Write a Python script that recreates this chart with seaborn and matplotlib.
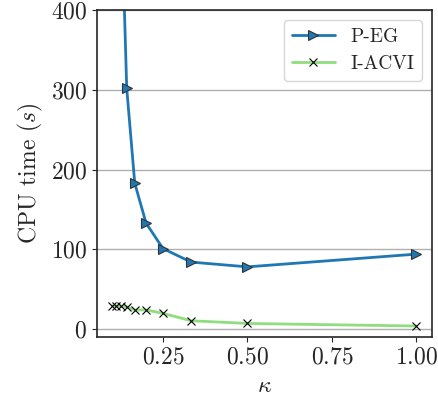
import matplotlib
matplotlib.use("Agg")
import matplotlib.pyplot as plt
import pandas as pd
import seaborn as sns

# kappa values and CPU time (s) per method
kappa_peg = [1/8, 1/7, 1/6, 1/5, 1/4, 1/3, 1/2, 1.0]
time_peg = [560, 302, 183, 133, 101, 84, 78, 94]

kappa_iacvi = [1/10, 1/9, 1/8, 1/7, 1/6, 1/5, 1/4, 1/3, 1/2, 1.0]
time_iacvi = [29, 29, 29, 28, 24, 24, 19.7, 10.4, 7, 3.8]

sns.set_style("ticks")
plt.rcParams["font.family"] = "serif"
plt.rcParams["font.serif"] = ["cmr10", "DejaVu Serif"]
plt.rcParams["mathtext.fontset"] = "cm"
plt.rcParams["axes.formatter.use_mathtext"] = True

peg = pd.DataFrame({"kappa": kappa_peg, "time": time_peg})
iacvi = pd.DataFrame({"kappa": kappa_iacvi, "time": time_iacvi})

fig = plt.figure(figsize=(4.38, 4.08), dpi=100)
ax = fig.add_axes([0.2215, 0.174, 0.764, 0.801])

sns.lineplot(data=peg, x="kappa", y="time", ax=ax, color="#1f77b4", lw=2,
             marker=">", markersize=6.5, markeredgecolor="#333333",
             markeredgewidth=0.8, label="P-EG")
sns.lineplot(data=iacvi, x="kappa", y="time", ax=ax, color="#90dd80", lw=2,
             marker="x", markersize=6, markeredgecolor="black",
             markeredgewidth=0.8, label="I-ACVI")

ax.set_ylim(-10, 400)
ax.set_yticks([0, 100, 200, 300, 400])
ax.set_xticks([0.25, 0.50, 0.75, 1.00])
ax.yaxis.grid(True, color="#b0b0b0", lw=1)
ax.set_axisbelow(True)
ax.tick_params(labelsize=17)
ax.set_xlabel(r"$\kappa$", fontsize=17)
ax.set_ylabel(r"CPU time ($s$)", fontsize=17)
for s in ax.spines.values():
    s.set_linewidth(1.2)

ax.legend(loc="upper right", fontsize=14, handlelength=2.2)

fig.savefig("out.png", dpi=100)
